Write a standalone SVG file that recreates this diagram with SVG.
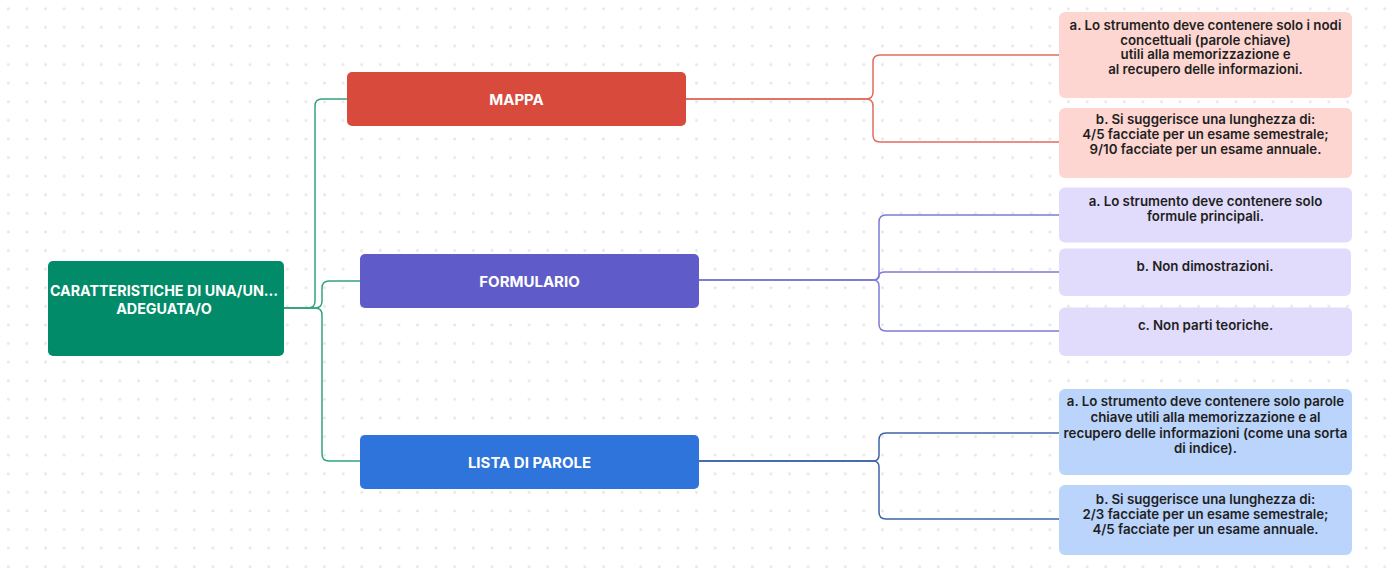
<svg xmlns="http://www.w3.org/2000/svg" width="1392" height="569" viewBox="0 0 1392 569">
<defs>
<pattern id="dots" x="0" y="0" width="18.6" height="18.6" patternUnits="userSpaceOnUse">
<circle cx="8.3" cy="8.8" r="1.4" fill="#e2e5ea"/>
</pattern>
<style>
.main{font-family:Inter,"Noto Sans","Liberation Sans",sans-serif;font-weight:700;font-size:15px;fill:#ffffff;text-anchor:middle;dominant-baseline:central}
.rt{font-size:14.3px}
.sub{font-family:Inter,"Noto Sans","Liberation Sans",sans-serif;font-weight:600;font-size:13.3px;fill:#1f1f1f;text-anchor:middle;dominant-baseline:central}
.ln{fill:none;stroke-width:1.5}
.g{stroke:#35a37f}
.r{stroke:#e26b5e}
.p{stroke:#7e7bd6}
.b{stroke:#3d64a8}
</style>
</defs>
<rect width="1392" height="569" fill="#ffffff"/>
<rect width="1392" height="569" fill="url(#dots)"/>
<g id="connectors">
<path class="ln g" d="M284,308 H308 Q315,308 315,301 V106 Q315,99 322,99 H347"/>
<path class="ln g" d="M284,308 H315 Q322,308 322,301 V288 Q322,281 329,281 H360"/>
<path class="ln g" d="M284,308 H315 Q322,308 322,315 V454 Q322,461 329,461 H360"/>
<path class="ln r" d="M686,99 H866 Q873,99 873,92 V62 Q873,55 880,55 H1059"/>
<path class="ln r" d="M686,99 H866 Q873,99 873,106 V135 Q873,142 880,142 H1059"/>
<path class="ln p" d="M699,280 H873 Q879,280 879,274 V222 Q879,215 886,215 H1059"/>
<path class="ln p" d="M699,280 H873 Q879,280 879,276 Q879,272 885,272 H1059"/>
<path class="ln p" d="M699,280 H873 Q879,280 879,286 V324 Q879,331 886,331 H1059"/>
<path class="ln b" d="M699,461 H873 Q879,461 879,455 V440 Q879,433 886,433 H1059"/>
<path class="ln b" d="M699,461 H873 Q879,461 879,467 V512 Q879,519 886,519 H1059"/>
</g>
<g id="root">
<rect x="48" y="261" width="236" height="95" rx="5" fill="#028b68"/>
<text class="main rt" x="164" y="290">CARATTERISTICHE DI UNA/UN...</text>
<text class="main rt" x="164" y="308">ADEGUATA/O</text>
</g>
<g id="mappa">
<rect x="347" y="72" width="339" height="54" rx="5" fill="#d84a3b"/>
<text class="main" x="516.5" y="99">MAPPA</text>
</g>
<g id="formulario">
<rect x="360" y="254" width="339" height="54" rx="5" fill="#5f5cc9"/>
<text class="main" x="529.5" y="281">FORMULARIO</text>
</g>
<g id="lista">
<rect x="360" y="435" width="339" height="54" rx="5" fill="#2f74db"/>
<text class="main" x="529.5" y="462">LISTA DI PAROLE</text>
</g>
<g id="mappa-a">
<rect x="1059" y="12" width="293" height="86" rx="6" fill="#fdd6d2"/>
<text class="sub" x="1205.5" y="25">a. Lo strumento deve contenere solo i nodi</text>
<text class="sub" x="1205.5" y="39.5">concettuali (parole chiave)</text>
<text class="sub" x="1205.5" y="54">utili alla memorizzazione e</text>
<text class="sub" x="1205.5" y="68.5">al recupero delle informazioni.</text>
</g>
<g id="mappa-b">
<rect x="1059" y="108" width="293" height="70" rx="6" fill="#fdd6d2"/>
<text class="sub" x="1205.5" y="119">b. Si suggerisce una lunghezza di:</text>
<text class="sub" x="1205.5" y="134">4/5 facciate per un esame semestrale;</text>
<text class="sub" x="1205.5" y="149">9/10 facciate per un esame annuale.</text>
</g>
<g id="formulario-a">
<rect x="1059" y="187.5" width="293" height="55" rx="6" fill="#e1dcfb"/>
<text class="sub" x="1205.5" y="200.5">a. Lo strumento deve contenere solo</text>
<text class="sub" x="1205.5" y="216">formule principali.</text>
</g>
<g id="formulario-b">
<rect x="1059" y="248.5" width="292" height="47.5" rx="6" fill="#e1dcfb"/>
<text class="sub" x="1205" y="266">b. Non dimostrazioni.</text>
</g>
<g id="formulario-c">
<rect x="1059" y="307.5" width="293" height="48.5" rx="6" fill="#e1dcfb"/>
<text class="sub" x="1205.5" y="325">c. Non parti teoriche.</text>
</g>
<g id="lista-a">
<rect x="1059" y="389" width="293" height="86" rx="6" fill="#bad4fb"/>
<text class="sub" x="1205.5" y="401">a. Lo strumento deve contenere solo parole</text>
<text class="sub" x="1205.5" y="416.5">chiave utili alla memorizzazione e al</text>
<text class="sub" x="1205.5" y="432.5">recupero delle informazioni (come una sorta</text>
<text class="sub" x="1205.5" y="448">di indice).</text>
</g>
<g id="lista-b">
<rect x="1059" y="485" width="293" height="70" rx="6" fill="#bad4fb"/>
<text class="sub" x="1205.5" y="498.5">b. Si suggerisce una lunghezza di:</text>
<text class="sub" x="1205.5" y="513.5">2/3 facciate per un esame semestrale;</text>
<text class="sub" x="1205.5" y="528.5">4/5 facciate per un esame annuale.</text>
</g>
</svg>
